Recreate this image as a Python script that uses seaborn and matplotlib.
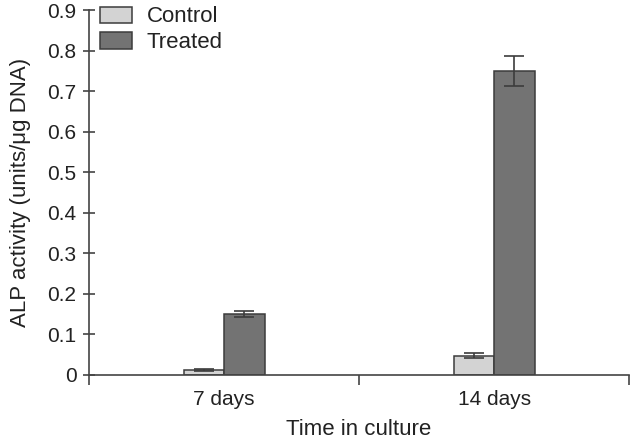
import matplotlib
matplotlib.use("Agg")
import matplotlib.pyplot as plt
import seaborn as sns
import pandas as pd
import numpy as np

categories = ["7 days", "14 days"]
groups = ["Control", "Treated"]
control_vals = [0.012, 0.048]
treated_vals = [0.151, 0.751]
control_err = [0.003, 0.006]
treated_err = [0.008, 0.037]

sns.set_style("ticks")
plt.rcParams['font.family'] = ['Liberation Sans', 'DejaVu Sans']

df = pd.DataFrame({
    "time": categories * 2,
    "group": [groups[0]] * 2 + [groups[1]] * 2,
    "value": control_vals + treated_vals,
    "err": control_err + treated_err,
})

fig = plt.figure(figsize=(6.33, 4.42), dpi=100)
ax = fig.add_axes([0.1406, 0.1516, 0.8534, 0.8254])

palette = {"Control": "#d3d3d3", "Treated": "#737373"}
sns.barplot(data=df, x="time", y="value", hue="group", order=categories,
            hue_order=groups, palette=palette, width=0.3, errorbar=None,
            edgecolor="#3c3c3c", linewidth=1.1, saturation=1, ax=ax)

# error bars at bar centers
for container, g in zip(ax.containers, groups):
    sub = df[df.group == g].set_index("time").loc[categories]
    xs = [p.get_x() + p.get_width() / 2 for p in container.patches]
    ax.errorbar(xs, sub["value"].values, yerr=sub["err"].values, fmt="none",
                ecolor="#3c3c3c", elinewidth=1.2, capsize=7, capthick=1.2, zorder=5)

ax.set_xlim(-0.5, 1.5)
ax.set_ylim(0, 0.9)
ax.set_yticks(np.arange(0, 0.91, 0.1))
ax.set_yticklabels(["0"] + [f"{v:.1f}" for v in np.arange(0.1, 0.91, 0.1)])
ax.set_xticks([-0.5, 0.5, 1.5], minor=False)
ax.set_xticklabels(["", "", ""])
ax.set_xticks([0, 1], minor=True)
ax.set_xticklabels(categories, minor=True)
ax.tick_params(axis="x", which="minor", length=0, labelsize=15, colors="#222222", pad=11)
ax.tick_params(axis="x", which="major", length=7, width=1.2, direction="out", color="#444444")
ax.tick_params(axis="y", length=8, width=1.2, direction="inout", labelsize=15,
               colors="#222222", color="#444444", pad=5)

for s in ["top", "right"]:
    ax.spines[s].set_visible(False)
for s in ["left", "bottom"]:
    ax.spines[s].set_color("#444444")
    ax.spines[s].set_linewidth(1.2)

ax.set_xlabel("Time in culture", fontsize=16, color="#222222", labelpad=7)
ax.set_ylabel("ALP activity (units/μg DNA)", fontsize=16, color="#222222", labelpad=12)

leg = ax.legend(loc="upper left", bbox_to_anchor=(-0.017, 1.065), frameon=False,
                fontsize=16, handlelength=1.45, handleheight=0.75,
                handletextpad=0.65, labelspacing=0.22)
for t in leg.get_texts():
    t.set_color("#222222")

fig.savefig("out.png", dpi=100)
